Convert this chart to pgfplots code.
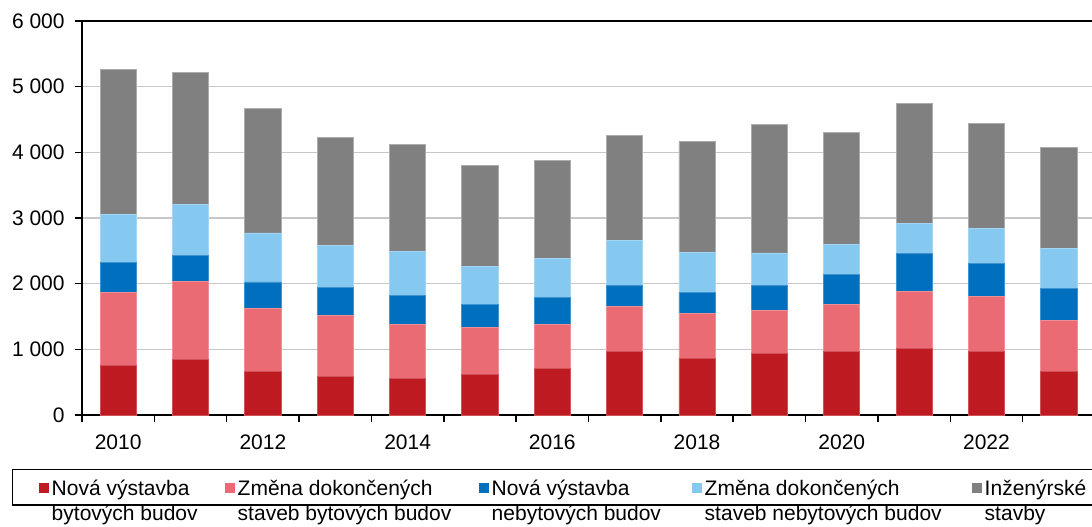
\documentclass[border=0pt]{standalone}
\usepackage{fontspec}
\setmainfont{Liberation Sans}
\usepackage{pgfplots}
\usepackage{pgfplotstable}
\pgfplotsset{compat=1.18}
\definecolor{c1}{HTML}{BE1A22}
\definecolor{c2}{HTML}{EA6B73}
\definecolor{c3}{HTML}{0070BE}
\definecolor{c4}{HTML}{85C8F0}
\definecolor{c5}{HTML}{808080}
\pgfplotsset{sq/.style={legend image code/.code={\fill[##1,draw=none] (0pt,1.25pt) rectangle (5pt,6.25pt);}}}
\pgfplotstableread{
x a b c d e
0 755 1105 461 730 2205
1 846 1186 396 785 1997
2 664 963 400 745 1896
3 593 922 431 634 1642
4 563 816 446 664 1627
5 623 710 355 573 1545
6 715 664 415 588 1495
7 973 674 330 679 1601
8 867 684 314 613 1693
9 933 653 391 491 1962
10 973 710 451 461 1713
11 1014 861 583 461 1830
12 973 831 502 532 1607
13 669 770 487 608 1536
}\data
\begin{document}
\fontsize{10.5}{12.5}\selectfont
\begin{tikzpicture}
\begin{axis}[name=ax, at={(0,0)}, anchor=south west,
 width=506.5pt, height=197pt, scale only axis,
 ybar stacked, bar width=0.5,
 xmin=-0.5, xmax=13.5, ymin=0, ymax=6000,
 ytick={0,1000,...,6000},
 xtick={0,2,4,6,8,10,12},
 xticklabels={2010,2012,2014,2016,2018,2020,2022},
 minor xtick={-0.5,0.5,...,13.5},
 tick align=outside,
 major tick length=3.5pt, minor tick length=3.5pt,
 major x tick style={draw=none},
 xtick pos=bottom, ytick pos=left,
 every tick/.style={black, line width=0.75pt},
 axis line style={black, line width=1pt},
 ymajorgrids, grid style={draw=black!22, line width=0.75pt},
 /pgf/number format/assume math mode=true,
 /pgf/number format/1000 sep={\ },
 ticklabel style={font=\fontsize{10.5}{12.5}\selectfont},
 xticklabel style={yshift=-2.5pt},
 yticklabel style={xshift=-1.5pt},
 legend columns=5,
 legend style={at={(axis description cs:-0.0691,-0.137)}, anchor=north west,
   draw=black, line width=0.75pt, inner xsep=13pt, inner ysep=5pt,
   column sep=0pt, nodes={inner sep=0pt, text depth=0pt},
   cells={anchor=base west},
   font=\fontsize{10.5}{12.5}\selectfont},
]
\addplot[fill=c1, draw=c1!75!white, line width=0.4pt, sq] table[x=x,y=a]{\data};
\addlegendentry{\hspace{1.5pt}\parbox[t]{86.5pt}{Nová výstavba\\bytových budov}}
\addplot[fill=c2, draw=c2!75!white, line width=0.4pt, sq] table[x=x,y=b]{\data};
\addlegendentry{\hspace{1.5pt}\parbox[t]{120.5pt}{Změna dokončených\\staveb bytových budov}}
\addplot[fill=c3, draw=c3!75!white, line width=0.4pt, sq] table[x=x,y=c]{\data};
\addlegendentry{\hspace{1.5pt}\parbox[t]{100pt}{Nová výstavba\\nebytových budov}}
\addplot[fill=c4, draw=c4!75!white, line width=0.4pt, sq] table[x=x,y=d]{\data};
\addlegendentry{\hspace{1.5pt}\parbox[t]{133.5pt}{Změna dokončených\\staveb nebytových budov}}
\addplot[fill=c5, draw=c5!65!white, line width=0.4pt, sq] table[x=x,y=e]{\data};
\addlegendentry{\hspace{1.5pt}\parbox[t]{80pt}{Inženýrské\\stavby}}
\draw[black, line width=1pt] (rel axis cs:0,0) -- (rel axis cs:1,0);
\end{axis}
\pgfresetboundingbox
\useasboundingbox (-41pt,-55.5pt) rectangle (505pt,207.5pt);
\end{tikzpicture}
\end{document}
